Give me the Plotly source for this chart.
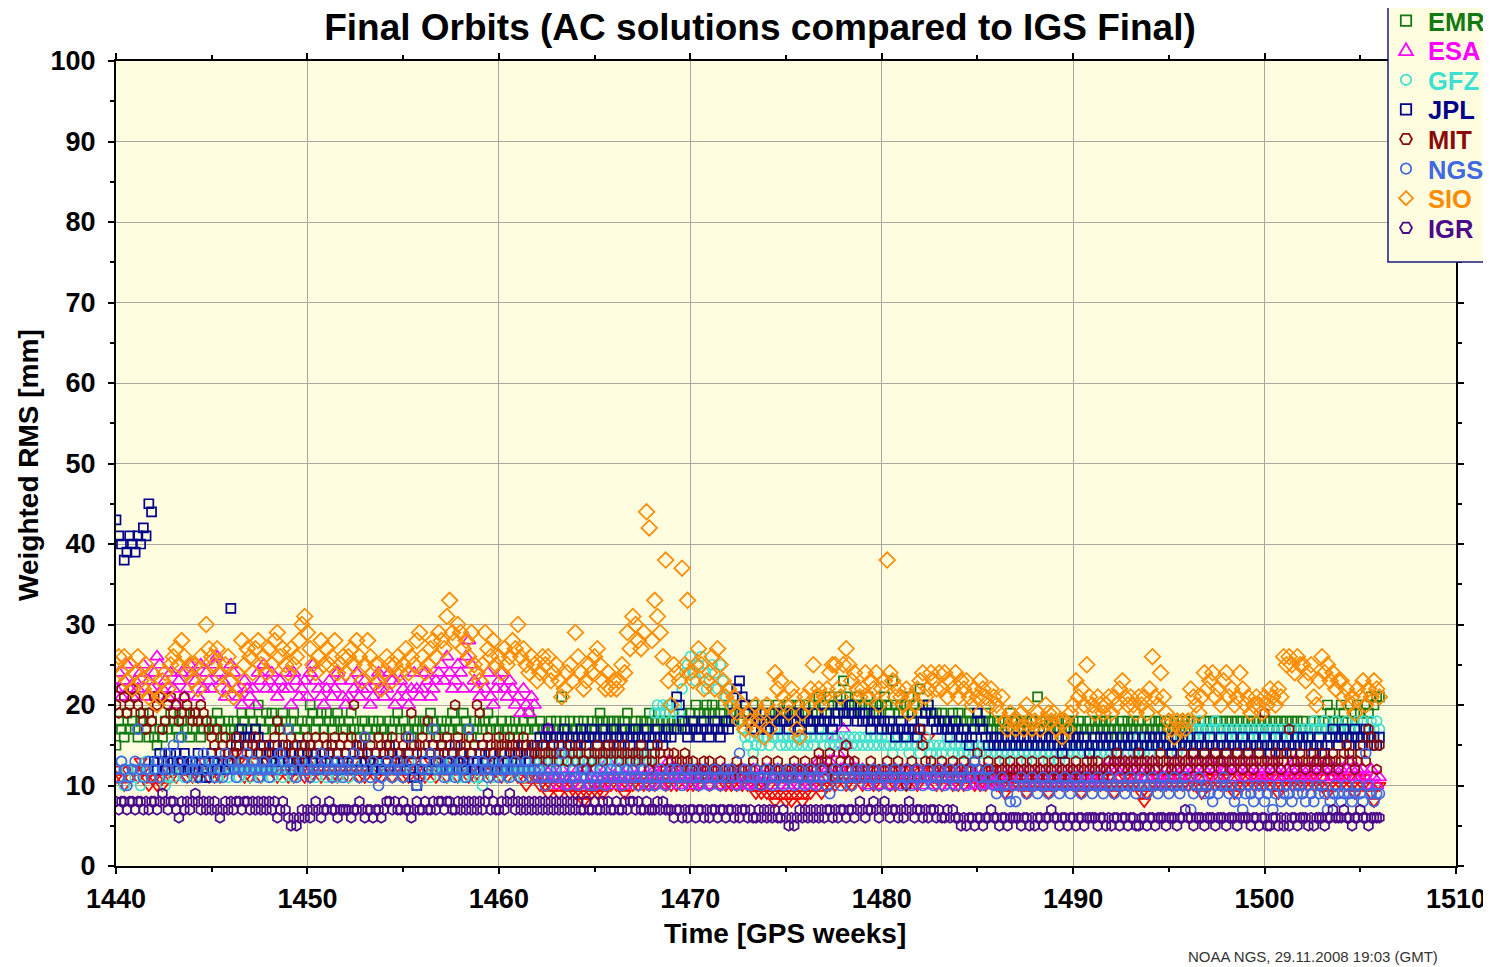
import numpy as np
import plotly.graph_objects as go

START_WEEK = 1440  # first GPS week; one value per day (7 per week)

# ---- daily weighted RMS values [mm] (week by week) ----
COD = [
 11,12,11,10,12,11,12, 12,11,13,12,11,10,11,
 11,10,11,10,11,12,11, 12,11,12,13,12,11,12,
 11,12,11,12,13,12,11, 12,11,12,11,12,13,12,
 13,12,14,13,12,11,12, 11,12,13,12,11,12,13,
 12,13,12,11,12,13,12, 11,12,11,12,13,12,11,
 12,11,12,13,12,11,12, 13,12,11,12,11,12,13,
 12,11,12,13,12,11,12, 11,12,13,12,11,12,11,
 12,13,12,11,12,13,12, 11,12,11,12,13,12,11,
 12,11,12,13,12,11,12, 13,12,11,12,13,12,11,
 12,13,12,11,12,11,12, 11,12,13,12,11,12,13,
 12,11,12,11,12,13,12, 11,12,11,10,11,12,11,
 11,10,11,10,9,10,11, 10,9,10,11,10,9,10,
 9,10,9,8,9,10,9, 10,9,10,9,10,11,10,
 11,10,11,10,9,10,11, 10,11,10,11,10,11,10,
 11,10,11,12,11,10,11, 10,11,10,11,12,11,10,
 11,10,11,10,11,12,11, 10,11,12,11,10,11,10,
 11,10,11,10,11,10,11, 10,11,10,9,10,9,10,
 9,10,9,8,9,10,9, 8,9,8,9,10,9,8,
 9,10,9,10,11,10,9, 10,11,10,11,10,11,12,
 11,10,11,10,11,12,11, 10,11,12,11,10,11,10,
 11,12,11,10,11,10,11, 12,11,10,11,12,11,10,
 11,12,11,16,12,11,10, 11,10,11,12,11,10,11,
 10,11,10,11,12,11,10, 11,10,11,10,11,12,11,
 10,11,10,9,10,11,10, 11,10,11,10,9,10,11,
 10,11,10,11,10,9,10, 11,10,11,10,11,10,11,
 10,11,10,9,10,11,10, 11,10,11,10,11,10,11,
 10,9,10,11,10,11,10, 11,10,11,10,9,8,9,
 10,11,10,11,10,11,10, 11,10,11,10,11,10,11,
 10,11,10,11,10,9,10, 11,10,11,10,11,10,11,
 10,11,10,9,10,11,10, 11,10,11,10,11,10,11,
 10,11,10,11,10,9,10, 11,10,11,10,11,10,11,
 10,11,10,11,10,11,10, 11,10,9,10,11,10,11,
 10,11,10,11,10,9,10, 11,10,11,10,9,8,10,
 10]

EMR = [
 15,18,17,16,19,17,18, 17,16,18,19,17,16,18,
 16,15,17,16,18,17,19, 18,17,16,18,19,17,16,
 17,19,18,16,17,18,17, 18,17,19,18,16,17,18,
 17,18,16,17,19,18,17, 19,18,17,20,18,17,19,
 18,19,17,18,17,19,18, 17,18,19,17,16,18,17,
 18,20,19,17,18,19,17, 19,18,17,18,19,18,17,
 17,18,19,17,16,17,18, 18,17,16,18,17,18,17,
 17,16,18,17,18,19,17, 18,17,17,16,18,17,18,
 17,18,17,19,18,17,16, 18,17,18,17,19,18,17,
 17,19,18,17,16,18,17, 18,17,18,19,17,18,17,
 17,18,16,17,18,17,18, 16,17,18,17,19,18,17,
 17,18,17,16,17,18,17, 18,17,21,18,17,18,17,
 17,18,17,18,17,16,18, 17,18,19,18,17,18,17,
 18,17,18,17,18,19,17, 17,18,17,18,17,18,19,
 18,17,18,19,18,17,18, 17,18,17,18,19,18,17,
 19,18,20,19,18,19,20, 19,20,19,18,19,20,18,
 18,19,18,20,19,18,19, 19,18,20,19,18,19,18,
 20,19,18,19,20,19,18, 19,20,19,18,19,20,19,
 20,19,18,20,19,21,19, 20,19,21,20,19,20,21,
 23,21,20,19,20,21,20, 19,20,21,20,19,20,19,
 20,21,20,19,23,20,19, 20,19,20,21,19,20,19,
 22,20,19,20,19,18,19, 18,19,18,17,18,19,18,
 19,18,17,18,19,18,17, 18,17,18,19,18,17,18,
 17,18,17,18,17,19,18, 18,17,18,17,18,17,18,
 17,21,18,17,18,17,18, 17,18,17,16,17,18,17,
 18,17,18,17,16,17,18, 17,18,17,18,17,18,17,
 18,17,16,17,18,17,18, 17,18,17,18,17,16,17,
 18,17,18,17,18,17,18, 17,16,17,18,17,18,17,
 18,17,18,17,16,17,18, 17,18,17,18,17,18,17,
 18,17,18,17,18,17,18, 17,18,17,18,17,18,17,
 18,17,18,17,18,17,18, 17,18,17,18,17,18,17,
 18,17,16,17,18,17,18, 17,18,20,19,18,17,18,
 20,19,18,17,18,19,20, 19,18,20,19,21,20,21,
 21]

ESA = [
 22,24,21,23,25,22,21, 23,22,24,25,21,23,22,
 24,26,25,22,23,21,24, 22,20,23,24,21,22,25,
 24,23,21,25,22,24,23, 22,25,26,24,23,21,22,
 25,24,22,21,20,23,22, 21,22,20,24,23,25,22,
 23,24,22,21,23,22,24, 22,20,24,23,21,22,23,
 21,24,25,23,22,21,20, 22,23,21,22,24,23,21,
 20,21,23,22,24,21,22, 23,22,20,21,23,24,22,
 21,22,24,23,20,21,23, 22,21,20,22,24,22,21,
 22,24,23,21,22,23,24, 25,23,26,24,22,23,25,
 24,22,26,28,25,23,22, 21,23,22,24,21,20,22,
 23,24,22,21,23,22,20, 21,19,22,20,19,21,20,
 13,12,11,12,17,12,11, 11,10,12,11,10,11,12,
 11,12,10,11,12,10,11, 12,11,10,11,12,13,11,
 10,11,12,11,10,12,11, 12,11,13,12,11,10,12,
 11,12,11,10,12,11,13, 12,11,12,10,11,12,11,
 11,10,11,12,10,11,12, 10,11,12,11,10,12,11,
 11,12,11,10,11,12,10, 11,10,12,11,10,11,12,
 11,12,10,11,12,11,10, 11,10,11,12,11,10,11,
 12,11,10,11,12,13,12, 11,12,13,12,16,14,12,
 17,15,13,12,11,12,11, 12,11,10,11,12,11,10,
 11,12,11,10,11,12,11, 10,11,12,11,10,11,12,
 11,10,11,12,11,10,11, 12,11,12,11,10,11,12,
 11,12,11,10,12,11,10, 11,10,11,12,11,10,11,
 10,11,12,11,10,11,12, 11,12,11,10,11,12,11,
 10,11,12,11,10,11,12, 11,10,11,12,11,10,11,
 12,11,10,11,12,11,10, 11,12,11,10,11,12,13,
 12,13,12,11,12,13,12, 13,12,11,12,13,12,11,
 12,13,12,11,10,11,12, 11,12,13,12,11,12,13,
 12,11,12,13,12,11,12, 13,12,13,12,11,13,12,
 12,13,12,11,12,13,12, 11,12,13,12,11,12,11,
 12,11,12,13,12,11,12, 11,12,11,12,13,12,11,
 12,11,12,11,12,13,12, 11,12,13,12,11,12,11,
 12,11,12,13,12,11,12, 11,12,11,10,12,11,10,
 11]

GFZ = [
 12,11,13,10,12,11,12, 11,12,10,11,13,12,11,
 12,13,11,12,10,11,12, 11,12,13,12,11,12,13,
 12,11,12,13,12,11,12, 13,12,11,12,13,12,11,
 12,13,12,11,12,13,12, 11,12,13,12,11,12,13,
 12,11,12,13,12,11,12, 13,12,11,12,13,14,12,
 12,13,12,11,12,13,12, 11,12,13,12,11,12,13,
 12,11,12,13,12,11,12, 13,12,11,12,13,12,11,
 12,13,12,11,12,13,12, 11,12,13,12,11,10,12,
 12,13,12,11,12,13,12, 13,12,11,12,13,12,11,
 12,11,12,13,12,11,12, 11,10,12,13,12,11,12,
 12,13,12,11,12,13,12, 13,12,11,12,13,12,13,
 12,13,14,13,12,13,14, 13,14,13,12,13,14,13,
 14,13,12,13,14,13,12, 13,14,13,12,13,14,13,
 14,13,14,13,12,13,14, 13,14,13,14,13,14,13,
 14,19,20,19,20,19,20, 20,19,20,19,22,24,25,
 26,24,23,25,26,24,22, 23,25,24,22,25,23,21,
 22,20,21,19,18,17,16, 15,16,14,15,16,15,16,
 16,15,16,17,16,15,16, 15,16,15,16,15,16,15,
 16,15,16,15,16,17,16, 15,16,15,16,15,16,15,
 16,15,16,15,16,15,16, 15,16,15,16,15,16,15,
 16,15,16,15,14,15,16, 15,16,15,14,15,16,15,
 14,15,16,15,14,15,14, 15,14,15,16,15,14,15,
 14,15,14,15,14,15,14, 15,14,15,14,15,14,15,
 14,15,14,13,14,15,14, 15,14,15,14,13,14,15,
 14,15,14,15,14,13,14, 15,14,13,14,15,14,15,
 14,15,14,15,14,15,14, 15,14,15,14,15,14,15,
 14,15,14,15,16,15,14, 15,14,15,16,15,14,15,
 14,15,16,15,14,15,16, 15,16,15,14,15,16,15,
 16,17,16,17,18,17,16, 17,16,17,18,17,16,17,
 16,17,16,17,16,17,16, 17,16,17,16,17,16,17,
 16,17,16,17,16,17,16, 17,16,17,16,17,16,17,
 16,17,16,17,18,17,16, 17,18,17,16,17,18,17,
 16,17,18,17,16,17,18, 17,18,17,16,18,17,18,
 17]

JPL = [
 43,41,40,38,39,41,40, 39,41,40,42,41,45,44,
 13,12,14,13,12,13,14, 13,14,12,13,14,13,12,
 13,12,14,11,12,11,13, 14,13,12,14,13,12,13,
 32,14,15,16,17,16,15, 16,15,17,16,14,15,13,
 14,13,15,14,13,14,15, 13,14,12,13,14,15,13,
 14,15,13,14,12,13,14, 13,14,15,13,14,12,13,
 14,13,12,14,13,15,14, 13,14,13,12,14,13,12,
 14,13,15,14,13,12,14, 13,12,14,15,11,10,12,
 14,13,12,14,15,13,14, 15,14,13,12,14,15,13,
 14,13,12,13,14,12,13, 14,15,13,12,14,13,12,
 13,14,12,13,14,15,13, 14,13,15,14,13,14,15,
 15,16,15,16,17,16,15, 16,15,16,17,16,15,16,
 15,16,17,16,15,16,17, 16,15,16,17,16,15,16,
 17,16,15,16,17,16,15, 16,17,16,15,16,17,16,
 15,16,17,16,15,16,17, 16,17,21,20,18,17,16,
 17,18,17,16,17,18,17, 16,17,18,17,16,17,18,
 17,18,19,22,23,21,20, 19,18,17,19,18,17,18,
 17,18,19,18,17,18,19, 18,17,18,19,18,17,18,
 19,18,17,18,19,18,17, 18,19,18,17,18,19,20,
 19,18,19,20,19,18,19, 18,19,18,17,18,19,18,
 17,18,17,18,17,16,17, 18,17,16,17,18,17,16,
 17,18,19,20,19,18,17, 18,17,18,17,16,17,18,
 17,16,17,16,15,16,17, 19,18,17,16,15,16,15,
 16,15,16,15,16,15,16, 15,16,15,16,15,16,15,
 16,15,16,15,16,15,16, 15,16,15,14,15,16,15,
 16,15,16,15,16,15,14, 15,16,15,16,15,16,15,
 16,15,14,15,16,15,16, 15,16,15,14,15,16,15,
 16,15,16,15,16,15,16, 15,14,15,16,15,16,15,
 16,15,14,15,16,15,14, 15,16,15,14,15,16,15,
 14,15,16,15,14,15,16, 15,14,15,16,15,14,15,
 16,15,14,15,16,15,14, 15,16,15,14,15,16,15,
 16,15,16,15,14,15,16, 15,14,15,16,17,16,15,
 16,17,16,15,16,17,16, 15,16,17,16,15,16,15,
 16]

MIT = [
 20,19,22,21,19,20,22, 21,20,19,18,17,19,18,
 21,20,21,17,18,20,21, 19,20,18,19,21,20,19,
 18,19,18,20,19,18,17, 16,15,17,14,15,16,14,
 15,14,16,15,14,13,15, 14,15,16,14,15,13,14,
 15,14,16,18,17,15,14, 15,16,14,15,13,14,15,
 16,15,14,16,15,14,16, 15,14,15,16,14,15,16,
 14,15,16,20,15,14,15, 16,14,15,13,14,16,15,
 14,15,14,16,15,14,13, 15,16,14,19,15,14,15,
 16,15,18,14,15,16,14, 15,14,16,15,14,20,16,
 15,14,15,16,14,15,20, 19,15,14,16,15,14,15,
 16,15,14,15,16,15,14, 15,14,16,15,14,15,14,
 13,14,15,14,13,14,15, 14,13,15,14,13,15,14,
 13,14,15,13,12,14,13, 14,15,14,13,14,15,14,
 15,14,13,14,15,14,13, 14,13,14,15,14,13,12,
 13,14,15,14,13,12,14, 13,14,13,12,13,14,13,
 12,13,12,11,12,13,12, 13,12,11,12,13,12,11,
 12,11,12,13,12,11,12, 11,12,13,12,11,10,12,
 13,12,11,12,13,12,11, 12,11,12,13,12,11,12,
 13,12,11,12,13,14,13, 12,13,14,12,11,12,13,
 14,15,13,12,13,12,11, 12,11,12,13,12,11,12,
 11,12,13,12,11,12,13, 12,11,10,12,13,12,11,
 17,15,13,12,13,12,11, 12,13,12,11,12,13,12,
 11,12,13,12,11,12,13, 14,12,11,12,13,12,11,
 12,13,12,11,12,13,12, 11,12,13,12,11,12,13,
 12,11,12,13,12,11,12, 13,12,11,12,13,12,11,
 12,13,12,11,12,13,12, 13,12,13,12,11,12,13,
 12,13,14,13,12,13,12, 13,12,13,14,13,12,13,
 12,13,12,13,14,13,12, 13,12,13,12,13,14,13,
 12,13,14,13,12,13,14, 13,12,13,14,13,12,13,
 14,13,12,13,14,13,12, 13,14,13,12,13,14,13,
 19,13,12,13,14,13,12, 13,14,17,13,12,13,14,
 13,12,13,14,13,12,13, 14,13,12,13,14,13,12,
 13,14,15,14,13,12,13, 14,15,13,17,16,15,12,
 15]

NGS = [
 12,11,13,12,10,11,12, 13,17,12,11,12,13,11,
 12,13,11,12,14,12,13, 15,12,13,16,12,11,13,
 12,13,12,11,14,12,13, 12,11,13,12,11,14,12,
 13,12,11,12,13,12,14, 12,13,12,11,12,13,12,
 11,12,13,12,14,13,12, 17,12,13,11,12,13,12,
 12,11,12,13,12,14,12, 13,12,11,12,13,12,11,
 12,13,12,14,12,11,12, 16,12,11,13,12,10,11,
 12,13,12,11,12,13,12, 11,12,16,13,12,10,11,
 12,13,12,14,17,12,13, 12,11,12,13,12,11,12,
 13,12,11,17,12,13,12, 12,13,12,11,12,13,12,
 11,12,13,12,11,12,13, 12,11,12,13,12,11,12,
 11,12,11,10,11,12,11, 12,11,14,11,10,11,12,
 11,10,11,12,11,10,11, 10,11,12,11,10,11,12,
 11,12,11,10,11,12,11, 12,11,10,11,12,11,10,
 11,10,11,12,11,10,11, 12,11,12,11,10,11,12,
 11,12,11,10,11,12,11, 10,11,12,11,10,11,12,
 11,12,11,10,14,11,12, 11,10,11,12,11,10,11,
 12,11,10,11,12,11,10, 11,12,11,10,11,12,11,
 10,11,12,11,10,11,12, 11,10,9,11,12,11,10,
 11,12,11,10,11,12,11, 12,11,10,11,12,11,10,
 11,12,11,10,11,12,11, 10,11,12,11,10,11,12,
 11,10,11,12,11,10,11, 12,11,10,11,12,11,10,
 11,12,11,10,11,12,13, 12,11,10,11,12,11,10,
 9,10,11,10,9,8,10, 8,10,11,10,9,10,11,
 10,9,10,11,10,9,10, 11,10,9,10,11,10,9,
 10,11,10,9,10,11,10, 9,10,11,10,9,10,11,
 10,9,10,11,10,9,10, 11,10,9,10,11,10,9,
 10,11,10,9,10,11,10, 9,10,11,10,9,10,11,
 10,7,9,10,11,10,9, 10,9,8,10,9,10,11,
 10,9,10,8,9,10,7, 9,10,9,8,10,9,10,
 8,9,10,7,9,10,8, 9,10,9,8,10,9,10,
 9,8,10,9,8,10,9, 10,9,7,8,9,10,9,
 8,9,10,9,8,9,10, 9,8,14,10,9,8,9,
 9]

SIO = [
 25,26,24,26,23,25,22, 24,26,23,22,25,21,24,
 22,20,21,23,24,22,25, 26,27,25,28,26,24,25,
 23,25,22,26,24,30,27, 26,25,27,24,22,25,26,
 23,21,24,22,28,25,27, 26,24,27,28,25,26,24,
 27,25,28,29,26,27,25, 24,27,25,26,28,30,31,
 29,27,25,24,26,28,25, 27,25,26,28,24,25,26,
 24,26,27,25,28,26,23, 25,28,26,24,25,23,22,
 24,26,25,23,25,26,24, 25,27,24,26,25,28,29,
 26,24,25,27,28,26,29, 28,27,31,33,29,28,30,
 29,27,28,26,29,25,24, 23,25,29,27,26,28,25,
 26,24,27,25,26,28,27, 30,26,27,25,24,26,25,
 23,24,26,25,26,23,24, 25,23,21,22,24,25,23,
 29,26,24,22,23,25,24, 26,27,25,23,22,24,22,
 23,22,23,25,24,29,27, 31,30,28,27,29,44,42,
 28,33,31,29,26,38,23, 20,25,24,23,37,25,33,
 24,23,25,27,25,22,23, 24,26,22,27,25,23,21,
 22,20,21,19,18,20,17, 19,18,17,20,18,19,16,
 20,17,19,24,22,23,21, 20,19,22,21,17,16,19,
 21,20,22,25,21,22,20, 21,22,24,25,25,22,21,
 25,27,25,23,24,22,21, 22,24,21,23,22,24,20,
 22,23,38,24,23,21,22, 21,20,22,19,21,20,22,
 23,24,21,22,24,23,22, 24,22,24,21,23,22,24,
 21,23,22,23,21,20,22, 21,23,22,21,20,22,21,
 20,19,21,18,17,19,18, 17,18,19,17,20,18,17,
 18,19,17,18,20,19,18, 19,17,18,16,18,17,19,
 20,23,21,22,20,25,21, 20,19,21,20,19,20,21,
 19,21,20,22,23,21,20, 21,20,19,21,20,21,19,
 22,26,21,20,24,21,19, 18,17,16,18,17,18,17,
 18,22,21,20,19,21,24, 22,23,24,21,22,20,23,
 24,21,22,20,21,24,22, 20,21,19,20,21,20,19,
 21,20,22,21,20,22,21, 26,25,26,25,24,26,25,
 25,23,24,25,21,20,23, 26,24,25,23,24,22,23,
 23,21,22,20,21,19,22, 21,23,20,22,21,23,22,
 21]

IGR = [
 8,7,8,8,7,8,8, 7,8,8,7,8,7,8,
 8,7,8,9,8,7,8, 8,7,6,8,7,8,7,
 8,9,8,7,8,7,8, 7,8,7,6,7,8,7,
 8,7,8,8,7,8,8, 7,8,7,8,7,8,7,
 8,7,8,6,7,8,7, 6,5,6,5,6,7,6,
 7,6,7,8,7,6,7, 7,8,7,7,6,7,7,
 7,7,6,7,7,8,7, 6,7,7,6,7,7,6,
 7,8,8,7,8,7,7, 8,7,7,6,7,8,7,
 7,8,7,7,8,7,8, 8,7,8,8,7,7,8,
 7,8,7,8,7,8,7, 8,7,8,9,7,8,7,
 7,8,7,8,9,8,7, 8,7,8,7,8,7,8,
 7,8,7,8,7,8,7, 8,7,8,7,8,7,8,
 7,8,7,7,8,7,7, 8,7,7,8,7,8,7,
 7,8,7,7,8,7,8, 8,7,8,7,7,8,7,
 7,7,8,7,8,7,7, 7,6,7,7,6,7,6,
 7,7,6,7,7,6,7, 6,7,7,6,7,7,6,
 7,7,6,7,6,7,7, 6,7,6,6,7,6,7,
 6,7,6,7,6,6,7, 6,5,6,5,6,7,6,
 7,6,7,6,7,6,7, 6,7,7,6,7,6,7,
 7,6,7,7,6,7,8, 7,6,7,7,8,7,6,
 7,8,7,6,7,7,6, 7,6,7,8,7,6,7,
 7,6,7,6,7,7,6, 7,6,6,7,6,7,6,
 6,5,6,5,6,6,5, 6,6,5,6,6,7,6,
 6,5,6,6,5,6,6, 6,6,5,6,6,5,6,
 5,6,6,5,6,6,7, 6,6,5,6,6,5,6,
 6,5,6,6,5,6,6, 6,6,5,6,6,5,6,
 5,6,6,5,6,6,5, 6,6,5,5,6,6,5,
 6,6,5,6,6,6,5, 6,6,6,5,6,6,7,
 6,6,5,6,6,6,5, 6,6,6,5,6,6,6,
 5,6,6,6,5,6,6, 6,6,5,6,6,5,6,
 6,5,5,6,6,5,6, 5,6,5,6,6,5,6,
 6,6,5,6,5,6,6, 6,5,6,6,7,6,6,
 6,7,6,6,5,6,6, 7,6,6,5,6,6,6,
 6]

NAMES = ["COD", "EMR", "ESA", "GFZ", "JPL", "MIT", "NGS", "SIO", "IGR"]
SERIES = [COD, EMR, ESA, GFZ, JPL, MIT, NGS, SIO, IGR]
COLORS = ["#FF0000", "#137A13", "#FF00FF", "#40E0D0", "#00008B",
          "#8B0A0A", "#4169E1", "#FF8C00", "#4B0A8B"]
SYMBOLS = ["triangle-down-open", "square-open", "triangle-up-open", "circle-open",
           "square-open", "hexagon-open", "circle-open", "diamond-open", "hexagon-open"]
SIZES = [11, 9, 12, 10, 9, 10, 10, 12, 10]

X_TICKS = [1440, 1450, 1460, 1470, 1480, 1490, 1500, 1510]
Y_TICKS = [0, 10, 20, 30, 40, 50, 60, 70, 80, 90, 100]

FONT = "Liberation Sans, Arial, Helvetica, sans-serif"
BG = "#FFFDE0"

# page layout (the figure div sits 8 px inside the page because of the body margin)
OFF = 8
W, H = 1491 - OFF, 967 - OFF
PL, PR, PT, PB = 116, 1456, 61, 866   # plot area in page pixels
PW, PH = PR - PL, PB - PT


def px(xp):
    return (xp - PL) / PW


def py(yp):
    return (PB - yp) / PH


fig = go.Figure()
for name, vals, col, sym, sz in zip(NAMES, SERIES, COLORS, SYMBOLS, SIZES):
    x = START_WEEK + np.arange(len(vals)) / 7.0
    fig.add_trace(go.Scatter(
        x=x, y=vals, mode="markers", name=name, showlegend=False,
        marker=dict(symbol=sym, size=sz, color=col, line=dict(color=col, width=1.7)),
    ))

axis_common = dict(
    showline=True, linecolor="black", linewidth=2, mirror="ticks",
    ticks="outside", ticklen=6, tickwidth=1.5, tickcolor="black",
    showgrid=True, gridcolor="#A8A8A0", gridwidth=1, zeroline=False,
    tickfont=dict(family=FONT, size=27, color="black", weight="bold"),
)

# ---- hand-built legend (box, symbols, coloured labels) ----
shapes = [dict(type="rect", xref="paper", yref="paper", layer="above",
               x0=px(1388), x1=px(1500), y0=py(262), y1=py(-40),
               fillcolor=BG, line=dict(color="#1A1A80", width=1.5))]
annotations = []
LEG_Y0, LEG_DY, LEG_SX, LEG_TX = -9, 29.6, 1406, 1426
LEG_SYM = ["tdown", "square", "tup", "circle", "square", "hex", "circle", "diamond", "hex"]


def sym_shape(kind, cx, cy, col):
    r = 6.0
    line = dict(color=col, width=1.8)
    if kind == "square":
        r = 5.2
        return dict(type="rect", x0=px(cx - r), x1=px(cx + r), y0=py(cy + r), y1=py(cy - r), line=line)
    if kind == "circle":
        r = 5.2
        return dict(type="circle", x0=px(cx - r), x1=px(cx + r), y0=py(cy + r), y1=py(cy - r), line=line)
    if kind == "tup":
        pts = [(cx, cy - 7), (cx + 7, cy + 5), (cx - 7, cy + 5)]
    elif kind == "tdown":
        pts = [(cx, cy + 7), (cx + 7, cy - 5), (cx - 7, cy - 5)]
    elif kind == "diamond":
        pts = [(cx, cy - 7), (cx + 7, cy), (cx, cy + 7), (cx - 7, cy)]
    else:
        pts = [(cx + r * np.cos(a), cy + r * np.sin(a)) for a in np.deg2rad(np.arange(0, 360, 60))]
    path = "M " + " L ".join(f"{px(a):.5f},{py(b):.5f}" for a, b in pts) + " Z"
    return dict(type="path", path=path, line=line)


for i, (name, col) in enumerate(zip(NAMES, COLORS)):
    cy = LEG_Y0 + i * LEG_DY
    s = sym_shape(LEG_SYM[i], LEG_SX, cy, col)
    s.update(xref="paper", yref="paper", layer="above")
    shapes.append(s)
    annotations.append(dict(
        text=f"<b>{name}</b>", xref="paper", yref="paper", x=px(LEG_TX), y=py(cy + 1),
        xanchor="left", yanchor="middle", showarrow=False,
        font=dict(family=FONT, size=25.5, color=col)))

annotations += [
    dict(text="<b>Time [GPS weeks]</b>", xref="paper", yref="paper",
         x=px(785), y=py(934), xanchor="center", yanchor="middle", showarrow=False,
         font=dict(family=FONT, size=28, color="black")),
    dict(text="<b>Weighted RMS [mm]</b>", xref="paper", yref="paper",
         x=px(29), y=py(465), xanchor="center", yanchor="middle", showarrow=False,
         textangle=-90, font=dict(family=FONT, size=28, color="black")),
    dict(text="NOAA NGS, 29.11.2008 19:03 (GMT)", xref="paper", yref="paper",
         x=px(1440), y=py(956), xanchor="right", yanchor="middle", showarrow=False,
         font=dict(family=FONT, size=15, color="#333333")),
]

fig.update_layout(
    width=W, height=H,
    margin=dict(l=PL - OFF, r=W - (PR - OFF), t=PT - OFF, b=H - (PB - OFF), autoexpand=False),
    paper_bgcolor="white", plot_bgcolor=BG,
    showlegend=False,
    title=dict(
        text="<b>Final Orbits (AC solutions compared to IGS Final)</b>",
        font=dict(family=FONT, size=37, color="black"),
        x=px(760), xref="paper", xanchor="center",
        y=1 - (27 - OFF) / H, yref="container", yanchor="middle",
    ),
    xaxis=dict(range=[1440, 1510], tickvals=X_TICKS, ticklabelstandoff=2,
               minor=dict(dtick=5, ticks="outside", ticklen=4, tickcolor="black", showgrid=False),
               **axis_common),
    yaxis=dict(range=[0, 100], tickvals=Y_TICKS, ticklabelstandoff=7,
               minor=dict(dtick=5, ticks="outside", ticklen=4, tickcolor="black", showgrid=False),
               **axis_common),
    shapes=shapes,
    annotations=annotations,
)

fig.write_html("out.html")
